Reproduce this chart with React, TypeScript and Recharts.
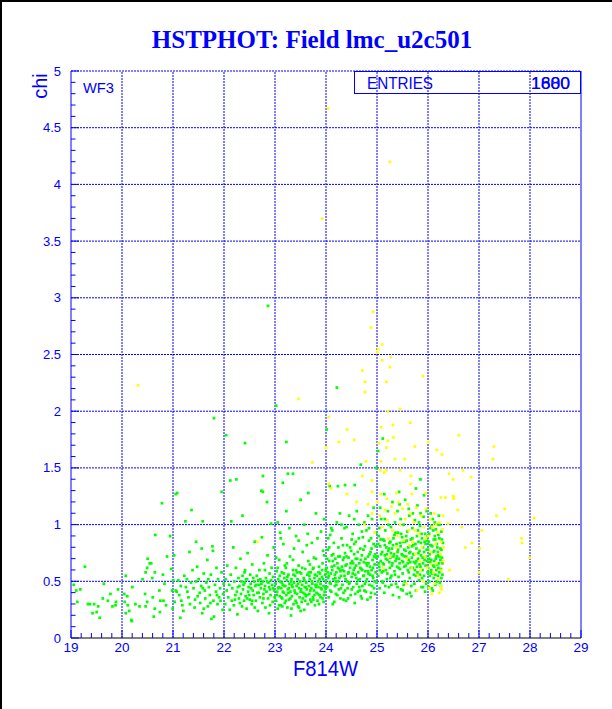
import { ScatterChart, Scatter, XAxis, YAxis, ReferenceLine } from "recharts";

const BLUE = "#0000ff";
const GREEN = "#00ff00";
const YELLOW = "#ffff00";

const xLabels = [19, 20, 21, 22, 23, 24, 25, 26, 27, 28, 29];
const yLabels = [0, 0.5, 1, 1.5, 2, 2.5, 3, 3.5, 4, 4.5, 5];
const xGrid = [20, 21, 22, 23, 24, 25, 26, 27, 28];
const yGrid = [0.5, 1, 1.5, 2, 2.5, 3, 3.5, 4, 4.5, 5];

// minor ticks: 0.2 on x, 0.1 on y
const xTicks: number[] = [];
for (let i = 0; i <= 50; i++) xTicks.push(+(19 + i * 0.2).toFixed(1));
const yTicks: number[] = [];
for (let i = 0; i <= 50; i++) yTicks.push(+(i * 0.1).toFixed(1));

// F814W, chi
const greenFaint: [number, number][] = [
  [19.05,0.47],[19.1,0.42],[19.12,0.32],[19.18,0.43],[19.27,0.63],[19.33,0.30],[19.37,0.30],[19.42,0.22],[19.45,0.30],[19.5,0.23],
  [19.53,0.28],[19.56,0.18],[19.62,0.35],[19.64,0.48],[19.72,0.33],[19.77,0.39],[19.81,0.28],[19.87,0.29],[19.88,0.32],[19.92,0.43],
  [20.04,0.39],[20.05,0.32],[20.07,0.55],[20.07,0.22],[20.1,0.37],[20.11,0.29],[20.14,0.24],[20.18,0.16],[20.19,0.15],[20.2,0.45],
  [20.26,0.3],[20.34,0.28],[20.4,0.52],[20.45,0.39],[20.46,0.58],[20.46,0.28],[20.49,0.62],[20.49,0.32],[20.5,0.70],[20.54,0.66],
  [20.57,0.66],[20.59,0.53],[20.6,0.36],[20.62,0.19],[20.64,0.58],[20.64,0.26],[20.65,0.91],[20.73,0.42],[20.74,0.23],[20.75,0.33],
  [20.78,1.19],[20.8,0.56],[20.81,0.33],[20.83,0.48],[20.86,0.29],[20.88,0.72],[20.94,0.9],[20.96,0.61],[20.98,0.42],[20.99,0.26],
];

const green21: [number, number][] = [
  [21.0,0.51],[21.02,0.73],[21.03,0.32],[21.05,1.27],[21.05,0.42],[21.07,0.41],[21.1,0.51],[21.12,0.38],[21.14,0.18],[21.16,0.33],
  [21.2,0.24],[21.22,0.55],[21.25,0.45],[21.27,0.52],[21.28,0.41],[21.3,0.36],[21.32,0.76],[21.33,0.3],[21.36,1.13],[21.38,0.6],
  [21.4,0.44],[21.42,0.27],[21.45,0.85],[21.45,0.5],[21.47,0.63],[21.48,0.37],[21.5,0.52],[21.52,0.4],[21.53,0.31],[21.55,0.46],
  [21.56,0.79],[21.57,0.22],[21.58,1.03],[21.6,0.57],[21.62,0.42],[21.63,0.35],[21.65,0.49],[21.67,0.69],[21.68,0.28],[21.7,0.45],
  [21.72,0.38],[21.74,0.56],[21.75,0.17],[21.77,0.81],[21.78,0.77],[21.79,0.33],[21.8,0.19],[21.82,0.47],[21.84,0.41],[21.85,0.62],
  [21.87,0.3],[21.88,0.52],[21.9,0.36],[21.92,0.44],[21.95,1.29],[21.95,0.58],[21.97,0.25],[21.98,0.39],[21.99,0.48],[21.15,0.46],
  [21.18,0.29],[21.35,0.49],[21.43,0.34],[21.58,0.44],[21.6,0.26],[21.69,0.52],[21.73,0.31],[21.86,0.38],[21.93,0.33],
];

const green22: [number, number][] = [
  [22.02,0.3],[22.03,0.52],[22.05,0.42],[22.06,0.64],[22.08,0.36],[22.1,0.47],[22.11,0.25],[22.13,0.56],[22.15,0.33],[22.16,0.44],
  [22.18,0.8],[22.19,0.29],[22.2,0.5],[22.22,0.38],[22.23,0.62],[22.25,0.41],[22.26,0.21],[22.28,0.53],[22.29,0.35],[22.3,0.46],
  [22.32,0.7],[22.33,0.39],[22.35,0.28],[22.36,0.55],[22.37,0.43],[22.39,0.33],[22.4,0.49],[22.41,0.6],[22.42,0.37],[22.44,0.26],
  [22.45,0.52],[22.46,0.75],[22.47,0.41],[22.48,0.45],[22.5,0.34],[22.51,0.56],[22.52,0.48],[22.54,0.3],[22.55,0.65],[22.56,0.42],
  [22.58,0.38],[22.59,0.5],[22.6,0.85],[22.61,0.46],[22.62,0.33],[22.64,0.55],[22.65,0.4],[22.66,0.24],[22.68,0.47],[22.69,0.6],
  [22.7,0.36],[22.71,0.52],[22.72,0.44],[22.74,0.89],[22.75,0.31],[22.76,0.5],[22.77,0.39],[22.78,0.66],[22.8,0.46],[22.81,0.27],
  [22.82,0.53],[22.83,0.41],[22.85,0.73],[22.86,0.35],[22.87,0.49],[22.88,0.22],[22.89,0.57],[22.9,0.43],[22.91,0.38],[22.93,0.62],
  [22.94,0.47],[22.95,0.32],[22.96,0.54],[22.97,0.8],[22.98,0.42],[22.99,0.36],[22.27,0.45],[22.34,0.5],[22.38,0.47],[22.43,0.52],
  [22.49,0.38],[22.53,0.44],[22.57,0.53],[22.63,0.47],[22.67,0.51],[22.73,0.48],[22.79,0.43],[22.84,0.5],[22.88,0.45],[22.92,0.51],
  [22.96,0.44],[22.21,0.34],[22.31,0.31],[22.45,0.35],[22.55,0.33],[22.68,0.4],[22.77,0.35],[22.9,0.29],[22.6,0.27],[22.4,0.58],
  [22.8,0.6],
];

const green23: [number, number][] = [
  [23.01,0.48],[23.02,0.33],[23.03,0.59],[23.04,0.41],[23.05,0.26],[23.06,0.52],[23.07,0.45],[23.08,0.69],[23.09,0.37],[23.1,0.5],
  [23.11,0.29],[23.12,0.44],[23.13,0.58],[23.14,0.35],[23.15,0.47],[23.16,0.83],[23.17,0.4],[23.18,0.53],[23.19,0.31],[23.2,0.46],
  [23.21,0.62],[23.22,0.38],[23.23,0.51],[23.24,0.27],[23.25,0.43],[23.26,0.56],[23.27,0.34],[23.28,0.48],[23.29,0.72],[23.3,0.41],
  [23.31,0.2],[23.32,0.52],[23.33,0.37],[23.34,0.45],[23.35,0.6],[23.36,0.3],[23.37,0.49],[23.38,0.42],[23.39,0.55],[23.4,0.33],
  [23.41,0.9],[23.42,0.46],[23.43,0.39],[23.44,0.52],[23.45,0.28],[23.46,0.64],[23.47,0.44],[23.48,0.36],[23.49,0.5],[23.5,0.41],
  [23.51,0.57],[23.52,0.32],[23.53,0.47],[23.54,0.76],[23.55,0.4],[23.56,0.53],[23.57,0.25],[23.58,0.45],[23.59,0.61],[23.6,0.37],
  [23.61,0.49],[23.62,0.43],[23.63,0.56],[23.64,0.3],[23.65,0.68],[23.66,0.46],[23.67,0.39],[23.68,0.52],[23.69,0.34],[23.7,0.58],
  [23.71,0.44],[23.72,0.84],[23.73,0.48],[23.74,0.36],[23.75,0.62],[23.76,0.42],[23.77,0.53],[23.78,0.29],[23.79,0.47],[23.8,0.7],
  [23.81,0.4],[23.82,0.55],[23.83,0.33],[23.84,0.5],[23.85,0.45],[23.86,0.63],[23.87,0.38],[23.88,0.57],[23.89,0.48],[23.9,0.94],
  [23.91,0.43],[23.92,0.6],[23.93,0.35],[23.94,0.52],[23.95,0.46],[23.96,0.73],[23.97,0.41],[23.98,0.56],[23.99,0.5],
  [23.03,0.38],[23.06,0.44],[23.09,0.55],[23.12,0.36],[23.15,0.41],[23.18,0.46],[23.21,0.33],[23.24,0.54],[23.27,0.44],[23.3,0.35],
  [23.33,0.47],[23.36,0.56],[23.39,0.4],[23.42,0.31],[23.45,0.48],[23.48,0.58],[23.51,0.43],[23.54,0.35],[23.57,0.51],[23.6,0.45],
  [23.63,0.38],[23.66,0.58],[23.69,0.42],[23.72,0.5],[23.75,0.34],[23.78,0.56],[23.81,0.47],[23.84,0.39],[23.87,0.52],[23.9,0.44],
  [23.93,0.66],[23.96,0.38],[23.99,0.6],[23.05,0.62],[23.14,0.28],[23.23,0.66],[23.32,0.26],[23.41,0.6],[23.5,0.24],[23.59,0.33],
  [23.68,0.65],[23.77,0.38],[23.86,0.3],[23.95,0.32],[23.05,1.02],[23.1,0.93],[23.22,1.12],[23.8,1.1],[23.96,1.05],
  [23.02,0.71],[23.08,0.29],[23.13,0.49],[23.19,0.64],[23.26,0.4],[23.31,0.5],[23.37,0.79],[23.43,0.58],[23.47,0.27],[23.53,0.62],
  [23.58,0.39],[23.62,0.82],[23.67,0.55],[23.71,0.32],[23.76,0.71],[23.8,0.45],[23.85,0.58],[23.89,0.36],[23.94,0.77],[23.98,0.44],
  [23.11,0.88],[23.28,0.97],[23.46,0.86],[23.64,0.92],[23.83,0.88],[23.57,1.0],[23.35,0.69],[23.74,0.61],[23.92,0.54],[23.17,0.57],
];

const green24: [number, number][] = [
  [24.01,0.62],[24.02,0.45],[24.03,0.78],[24.04,0.53],[24.05,0.36],[24.06,0.68],[24.07,0.49],[24.08,0.91],[24.09,0.57],[24.1,0.41],
  [24.11,0.73],[24.12,0.6],[24.13,0.3],[24.14,0.52],[24.15,0.84],[24.16,0.64],[24.17,0.46],[24.18,0.7],[24.19,0.39],[24.2,0.58],
  [24.21,1.02],[24.22,0.66],[24.23,0.5],[24.24,0.8],[24.25,0.43],[24.26,0.61],[24.27,0.72],[24.28,0.35],[24.29,0.55],[24.3,0.88],
  [24.31,0.63],[24.32,0.47],[24.33,0.69],[24.34,0.4],[24.35,0.59],[24.36,0.97],[24.37,0.75],[24.38,0.52],[24.39,0.33],[24.4,0.65],
  [24.41,0.82],[24.42,0.44],[24.43,0.57],[24.44,0.71],[24.45,1.08],[24.46,0.49],[24.47,0.62],[24.48,0.38],[24.49,0.77],[24.5,0.54],
  [24.51,0.68],[24.52,0.92],[24.53,0.45],[24.54,0.6],[24.55,0.74],[24.56,0.31],[24.57,0.56],[24.58,0.85],[24.59,0.64],[24.6,0.48],
  [24.61,0.7],[24.62,0.41],[24.63,0.58],[24.64,1.0],[24.65,0.66],[24.66,0.52],[24.67,0.79],[24.68,0.37],[24.69,0.61],[24.7,0.73],
  [24.71,0.46],[24.72,0.89],[24.73,0.55],[24.74,0.67],[24.75,0.42],[24.76,0.81],[24.77,0.59],[24.78,0.5],[24.79,0.95],[24.8,0.64],
  [24.81,0.34],[24.82,0.72],[24.83,0.57],[24.84,0.86],[24.85,0.47],[24.86,0.63],[24.87,0.76],[24.88,0.4],[24.89,0.6],[24.9,1.05],
  [24.91,0.69],[24.92,0.53],[24.93,0.83],[24.94,0.44],[24.95,0.65],[24.96,0.74],[24.97,0.58],[24.98,0.93],[24.99,0.49],
  [24.02,0.7],[24.05,0.55],[24.08,0.42],[24.11,0.63],[24.14,0.74],[24.17,0.56],[24.2,0.47],[24.23,0.62],[24.26,0.53],[24.29,0.44],
  [24.32,0.6],[24.35,0.71],[24.38,0.64],[24.41,0.5],[24.44,0.58],[24.47,0.8],[24.5,0.43],[24.53,0.66],[24.56,0.62],[24.59,0.53],
  [24.62,0.76],[24.65,0.45],[24.68,0.69],[24.71,0.6],[24.74,0.55],[24.77,0.7],[24.8,0.52],[24.83,0.66],[24.86,0.56],[24.89,0.79],
  [24.92,0.62],[24.95,0.5],[24.98,0.71],[24.04,0.88],[24.1,0.97],[24.16,0.32],[24.22,0.38],[24.3,1.0],[24.37,0.42],[24.43,0.35],
  [24.5,0.87],[24.57,0.39],[24.64,0.88],[24.7,0.35],[24.78,0.41],[24.84,0.97],[24.9,0.46],[24.96,0.39],[24.27,1.1],[24.6,1.12],
  [24.93,1.15],[24.75,1.02],
  [24.03,0.58],[24.06,0.8],[24.09,0.48],[24.13,0.68],[24.18,0.53],[24.24,0.72],[24.28,0.59],[24.33,0.82],[24.36,0.55],[24.4,0.72],
  [24.45,0.48],[24.48,0.66],[24.52,0.57],[24.55,0.83],[24.58,0.7],[24.63,0.51],[24.67,0.62],[24.7,0.94],[24.73,0.78],[24.76,0.48],
  [24.79,0.66],[24.82,0.59],[24.85,0.74],[24.88,0.88],[24.91,0.55],[24.94,0.72],[24.97,0.81],[24.12,0.95],[24.4,0.98],[24.82,1.08],
  [24.55,1.05],[24.19,0.5],[24.34,0.34],[24.66,0.42],[24.87,0.36],
];

const green25: [number, number][] = [
  [25.01,0.72],[25.02,0.55],[25.03,0.9],[25.04,0.63],[25.05,0.44],[25.06,0.81],[25.07,0.68],[25.08,1.05],[25.09,0.58],[25.1,0.76],
  [25.11,0.49],[25.12,0.87],[25.13,0.65],[25.14,0.4],[25.15,0.73],[25.16,0.95],[25.17,0.6],[25.18,0.8],[25.19,0.52],[25.2,0.69],
  [25.21,1.12],[25.22,0.77],[25.23,0.45],[25.24,0.84],[25.25,0.62],[25.26,0.71],[25.27,0.98],[25.28,0.55],[25.29,0.79],[25.3,0.66],
  [25.31,0.38],[25.32,0.88],[25.33,0.74],[25.34,0.59],[25.35,1.02],[25.36,0.68],[25.37,0.48],[25.38,0.83],[25.39,0.63],[25.4,0.76],
  [25.41,0.93],[25.42,0.54],[25.43,0.7],[25.44,1.18],[25.45,0.61],[25.46,0.81],[25.47,0.43],[25.48,0.74],[25.49,0.89],[25.5,0.57],
  [25.51,0.67],[25.52,1.0],[25.53,0.78],[25.54,0.5],[25.55,0.85],[25.56,0.64],[25.57,0.72],[25.58,0.39],[25.59,0.94],[25.6,0.6],
  [25.61,0.8],[25.62,0.69],[25.63,1.08],[25.64,0.53],[25.65,0.76],[25.66,0.87],[25.67,0.46],[25.68,0.71],[25.69,0.97],[25.7,0.62],
  [25.71,0.82],[25.72,0.56],[25.73,0.74],[25.74,1.04],[25.75,0.66],[25.76,0.42],[25.77,0.79],[25.78,0.9],[25.79,0.58],[25.8,0.7],
  [25.81,0.85],[25.82,0.51],[25.83,0.77],[25.84,0.99],[25.85,0.63],[25.86,0.73],[25.87,0.45],[25.88,0.88],[25.89,0.6],[25.9,0.8],
  [25.91,1.07],[25.92,0.55],[25.93,0.69],[25.94,0.92],[25.95,0.64],[25.96,0.48],[25.97,0.78],[25.98,0.86],[25.99,0.58],
  [25.02,0.83],[25.05,0.6],[25.08,0.74],[25.11,0.66],[25.14,0.86],[25.17,0.7],[25.2,0.57],[25.23,0.79],[25.26,0.85],[25.29,0.64],
  [25.32,0.72],[25.35,0.56],[25.38,0.7],[25.41,0.78],[25.44,0.66],[25.47,0.92],[25.5,0.73],[25.53,0.63],[25.56,0.77],[25.59,0.7],
  [25.62,0.58],[25.65,0.67],[25.68,0.81],[25.71,0.74],[25.74,0.6],[25.77,0.68],[25.8,0.95],[25.83,0.65],[25.86,0.84],[25.89,0.71],
  [25.92,0.76],[25.95,0.83],[25.98,0.68],[25.04,0.97],[25.1,0.5],[25.16,0.46],[25.22,1.0],[25.28,0.47],[25.34,0.91],[25.4,0.45],
  [25.46,1.05],[25.52,0.47],[25.58,0.86],[25.64,0.4],[25.7,1.1],[25.76,0.55],[25.82,1.02],[25.88,0.53],[25.94,0.41],[25.06,1.15],
  [25.3,1.2],[25.55,1.22],[25.79,1.17],[25.97,1.12],[25.43,0.36],[25.67,0.37],
  [25.03,0.66],[25.07,0.87],[25.12,0.59],[25.15,0.82],[25.19,0.74],[25.24,0.67],[25.27,0.75],[25.31,0.82],[25.36,0.93],[25.39,0.72],
  [25.42,0.62],[25.45,0.84],[25.49,0.68],[25.51,0.85],[25.54,0.72],[25.57,0.9],[25.6,0.66],[25.63,0.75],[25.66,0.62],[25.69,0.88],
  [25.72,0.67],[25.75,0.83],[25.78,0.63],[25.81,0.75],[25.84,0.56],[25.87,0.92],[25.9,0.66],[25.93,0.85],[25.96,0.72],[25.99,0.9],
  [25.26,0.53],[25.5,0.42],[25.73,0.48],[25.9,0.45],[25.15,1.05],[25.4,1.12],[25.62,1.14],[25.85,1.1],
];

const green26: [number, number][] = [
  [26.0,0.62],[26.01,0.85],[26.02,0.5],[26.03,0.74],[26.04,0.97],[26.05,0.58],[26.06,0.69],[26.07,0.44],[26.08,0.81],[26.09,1.05],
  [26.1,0.64],[26.11,0.53],[26.12,0.77],[26.13,0.9],[26.14,0.47],[26.15,0.7],[26.16,0.6],[26.17,0.83],[26.18,1.0],[26.19,0.55],
  [26.2,0.73],[26.21,0.66],[26.22,0.88],[26.23,0.49],[26.24,0.79],[26.25,0.61],[26.26,0.94],[26.27,0.71],[26.28,0.56],[26.29,0.84],
  [26.0,0.78],[26.02,0.92],[26.04,0.67],[26.06,0.82],[26.08,0.57],[26.1,0.76],[26.12,0.63],[26.14,0.87],[26.16,0.72],[26.18,0.65],
  [26.2,0.91],[26.22,0.58],[26.24,0.69],[26.26,0.78],[26.28,0.66],[26.01,0.45],[26.05,1.1],[26.09,0.42],[26.13,1.02],[26.17,0.5],
  [26.21,1.08],[26.25,0.46],[26.03,0.55],[26.07,0.99],[26.11,0.87],[26.15,0.96],[26.19,0.76],[26.23,1.0],[26.27,0.87],
  [26.02,0.7],[26.06,0.6],[26.1,0.95],[26.14,0.56],[26.18,0.8],[26.22,0.72],[26.26,0.53],[26.04,0.82],[26.12,0.68],[26.2,0.62],
];

const greenHigh: [number, number][] = [
  [21.8,1.94],[22.04,1.79],[22.41,1.72],[22.12,1.39],[22.24,1.4],[22.76,1.43],[22.76,1.29],[22.86,2.93],[23.02,2.05],[23.22,1.73],
  [23.25,1.45],[23.65,1.28],[24.01,1.84],[24.21,2.21],[24.23,1.34],[24.37,1.35],[24.56,1.35],[24.68,1.53],[24.98,1.5],[25.02,1.65],
  [25.11,1.76],[25.43,1.29],[25.76,1.32],[25.85,1.4],[25.92,1.26],[25.14,1.27],[21.08,1.28],[21.24,1.03],[22.14,1.03],[22.36,1.08],
  [22.73,1.3],[22.84,1.2],[22.92,1.01],[23.35,1.45],[23.15,1.37],[23.5,1.22],[24.07,1.34],
];

const yellowHigh: [number, number][] = [
  [25.25,4.2],[24.04,4.67],[23.92,3.7],[24.92,2.88],[24.88,2.74],[25.1,2.59],[25.02,2.55],[25.0,2.52],[25.27,2.48],[25.1,2.45],
  [25.25,2.39],[24.71,2.36],[25.9,2.31],[24.76,2.26],[25.18,2.26],[24.76,2.17],[23.46,2.11],[20.31,2.23],[25.21,2.0],[25.45,2.02],
  [24.05,1.95],[24.41,1.84],[25.08,1.86],[25.31,1.88],[25.65,1.9],[26.6,1.79],[25.32,1.77],[24.25,1.73],[24.55,1.75],[25.21,1.74],
  [25.03,1.72],[24.0,1.68],[25.18,1.68],[25.74,1.69],[26.0,1.73],[26.17,1.66],[26.27,1.62],[27.29,1.69],[27.27,1.58],[25.35,1.58],
  [25.54,1.58],[25.07,1.56],[24.78,1.56],[23.73,1.55],[25.06,1.48],[25.18,1.48],[25.45,1.48],[25.66,1.43],[25.14,1.46],[24.71,1.43],
  [24.05,1.36],[24.09,1.32],[24.9,1.39],[25.66,1.36],[26.41,1.45],[26.49,1.4],[26.68,1.48],[26.84,1.42],[24.41,1.27],[24.9,1.29],
  [25.07,1.27],[25.38,1.28],[25.68,1.27],[25.95,1.28],[26.5,1.25],[26.25,1.24],[25.19,1.23],[22.65,0.85],
];

const yellowSide: [number, number][] = [
  [26.58,1.13],[27.5,1.14],[27.34,1.08],[28.08,1.06],[26.66,0.98],[27.05,0.95],[26.86,0.84],[26.73,0.8],[27.01,0.79],[27.83,0.88],
  [27.84,0.84],[26.42,0.6],[27.0,0.58],[27.57,0.52],[27.99,0.71],[26.25,0.46],[26.26,0.43],[26.07,0.39],[26.49,1.25],[26.34,1.24],
  [26.39,1.01],[26.5,1.23],
];

const yellowCore: [number, number][] = [
  [24.82,1.18],[24.9,1.1],[24.95,0.93],[25.0,1.2],[25.05,1.08],[25.1,0.98],[25.15,1.13],[25.2,1.04],[25.22,0.88],[25.28,1.16],
  [25.3,0.95],[25.35,1.1],[25.38,0.8],[25.42,1.2],[25.45,1.0],[25.5,1.14],[25.52,0.86],[25.55,1.05],[25.58,0.7],[25.6,1.18],
  [25.62,0.95],[25.65,1.1],[25.68,0.62],[25.7,0.85],[25.72,1.02],[25.75,0.74],[25.77,1.15],[25.8,0.55],[25.82,0.92],[25.84,0.68],
  [25.86,1.08],[25.88,0.8],[25.9,0.5],[25.92,0.98],[25.94,0.72],[25.96,1.14],[25.98,0.62],[26.0,0.9],[26.02,0.44],[26.04,1.05],
  [26.06,0.76],[26.08,0.98],[26.1,0.58],[26.12,1.1],[26.14,0.83],[26.16,0.66],[26.18,0.93],[26.2,0.52],[26.22,1.02],[26.24,0.74],
  [26.26,0.6],[26.28,0.96],[26.3,0.8],[26.3,0.68],[26.29,1.08],[25.74,0.95],[25.85,0.6],[25.95,0.88],[26.05,0.65],[26.15,1.0],
  [26.25,0.85],[25.63,0.82],[25.4,0.9],[25.25,0.72],[24.75,1.0],[24.6,1.2],[25.12,0.62],[25.58,0.48],[25.78,0.42],[26.12,0.48],
  [26.22,0.4],
];

const toPts = (a: [number, number][]) => a.map(([x, y]) => ({ x, y }));
const greenPts = toPts([...greenFaint, ...green21, ...green22, ...green23, ...green24, ...green25, ...green26, ...greenHigh]);
const yellowPts = toPts([...yellowHigh, ...yellowSide, ...yellowCore]);

const isMajor = (v: number, step: number) => Math.abs(v / step - Math.round(v / step)) < 1e-6;

const XTick = (props: any) => {
  const { x, y, payload } = props;
  const v = payload.value;
  const major = isMajor(v, 1);
  return (
    <g>
      <line x1={x} x2={x} y1={y} y2={y - (major ? 8 : 5)} stroke={BLUE} />
      {major && (
        <text x={x} y={y + 14} textAnchor="middle" fill={BLUE} fontSize={13.5} fontFamily="Liberation Sans, Arial">
          {v}
        </text>
      )}
    </g>
  );
};

const YTick = (props: any) => {
  const { x, y, payload } = props;
  const v = payload.value;
  const major = isMajor(v, 0.5);
  return (
    <g>
      <line x1={x} x2={x + (major ? 8 : 4.5)} y1={y} y2={y} stroke={BLUE} />
      {major && (
        <text x={x - 10} y={y + 4.5} textAnchor="end" fill={BLUE} fontSize={13} fontFamily="Liberation Sans, Arial">
          {v}
        </text>
      )}
    </g>
  );
};

const dot = (color: string) => (p: any) => (
  <rect x={p.cx - 1.2} y={p.cy - 1.2} width={2.7} height={2.7} fill={color} />
);

export default function App() {
  return (
    <div style={{ position: "absolute", left: 0, top: 0, width: 612, height: 709, background: "#fff" }}>
      <div style={{ position: "absolute", left: 0, top: 0, width: 2, height: 709, background: "#000" }} />
      <div style={{ position: "absolute", left: 0, top: 0, width: 612, height: 2, background: "#000" }} />
      <div style={{ position: "absolute", left: 0, top: 0 }}>
        <ScatterChart width={612} height={709} margin={{ top: 71, right: 31, bottom: 0, left: 0 }}>
          {xGrid.map((v) => (
            <ReferenceLine key={"gx" + v} x={v} stroke={BLUE} strokeDasharray="2 1" />
          ))}
          {yGrid.map((v) => (
            <ReferenceLine key={"gy" + v} y={v} stroke={BLUE} strokeDasharray="2 1" />
          ))}
          <ReferenceLine x={29} stroke={BLUE} />
          <XAxis
            type="number"
            dataKey="x"
            domain={[19, 29]}
            ticks={xTicks}
            interval={0}
            height={71}
            tickSize={0}
            tickMargin={0}
            tickLine={false}
            axisLine={{ stroke: "#000" }}
            tick={<XTick />}
            allowDataOverflow
          />
          <YAxis
            type="number"
            dataKey="y"
            domain={[0, 5]}
            ticks={yTicks}
            interval={0}
            width={71}
            tickSize={0}
            tickMargin={0}
            tickLine={false}
            axisLine={{ stroke: BLUE }}
            tick={<YTick />}
            allowDataOverflow
          />
          <Scatter data={greenPts} fill={GREEN} shape={dot(GREEN)} isAnimationActive={false} />
          <Scatter data={yellowPts} fill={YELLOW} shape={dot(YELLOW)} isAnimationActive={false} />
        </ScatterChart>
      </div>
      <svg width={612} height={709} style={{ position: "absolute", left: 0, top: 0, pointerEvents: "none" }}>
        <text x={312} y={48} textAnchor="middle" fill={BLUE} fontSize={25} fontWeight="bold" fontFamily="Liberation Serif, Times New Roman">
          HSTPHOT: Field lmc_u2c501
        </text>
        <text transform="translate(47,86) rotate(-90)" textAnchor="middle" fill={BLUE} fontSize={20} fontFamily="Liberation Sans, Arial">
          chi
        </text>
        <text x={293} y={676} fill={BLUE} fontSize={22} textLength={65} lengthAdjust="spacingAndGlyphs" fontFamily="Liberation Sans, Arial">
          F814W
        </text>
        <text x={83} y={93} fill={BLUE} fontSize={15} textLength={31} lengthAdjust="spacingAndGlyphs" fontFamily="Liberation Sans, Arial">
          WF3
        </text>
        <rect x={354.5} y={71.5} width={226} height={22} fill="none" stroke={BLUE} />
        <text x={367} y={89} fill={BLUE} fontSize={17} textLength={66} lengthAdjust="spacingAndGlyphs" fontFamily="Liberation Sans, Arial">
          ENTRIES
        </text>
        <text x={531} y={89} fill={BLUE} fontSize={17} textLength={39} lengthAdjust="spacingAndGlyphs" fontFamily="Liberation Sans, Arial">
          1600
        </text>
        <text x={531} y={89} fill={BLUE} fontSize={17} textLength={39} lengthAdjust="spacingAndGlyphs" fontFamily="Liberation Sans, Arial">
          1880
        </text>
      </svg>
    </div>
  );
}
